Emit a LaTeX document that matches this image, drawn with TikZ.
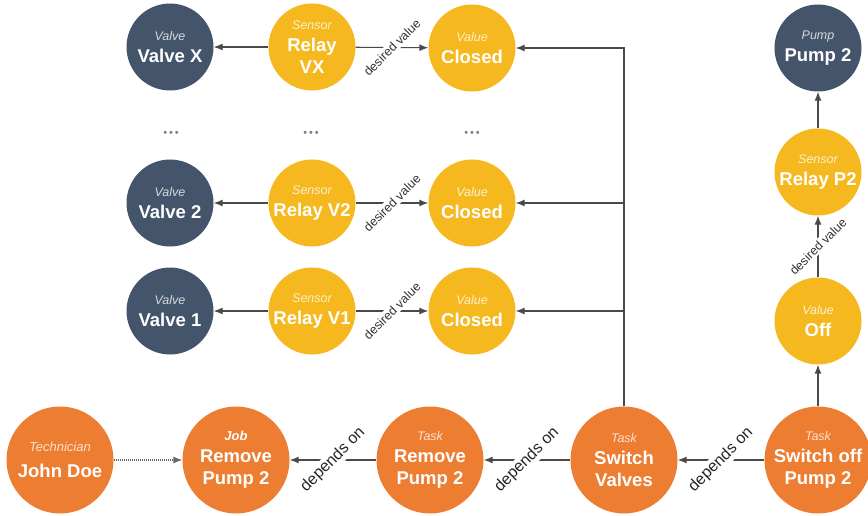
\documentclass[tikz,border=0pt]{standalone}
\usepackage{fontspec}
\setmainfont{Liberation Sans}
\usetikzlibrary{arrows.meta}
\definecolor{navy}{HTML}{44546A}
\definecolor{gold}{HTML}{F5B91F}
\definecolor{orng}{HTML}{ED7D31}
\definecolor{lnc}{HTML}{4A4A4A}
\tikzset{
 base/.style={circle, text=white, align=center, inner sep=0pt, font=\bfseries\fontsize{18.5}{22}\selectfont},
 small/.style={base, minimum size=87pt},
 big/.style={base, minimum size=107pt},
 nv/.style={small, fill=navy},
 ny/.style={small, fill=gold},
 no/.style={big, fill=orng},
 arr/.style={draw=lnc, line width=1.1pt, -{Latex[length=9pt,width=7pt]}},
 dv/.style={fill=white, rotate=45, font=\fontsize{12.5}{13}\selectfont, inner sep=1.5pt, text=black!80},
 dep/.style={fill=white, rotate=45, font=\fontsize{16}{17}\selectfont, inner sep=1.5pt, text=black!85},
 dots/.style={text=gray, inner sep=0pt, font=\fontsize{11}{11}\selectfont},
}
\newcommand{\cat}[2]{{\normalfont\itshape\fontsize{12.5}{15}\selectfont\color{white!78!#1}#2}\\}
\begin{document}
\begin{tikzpicture}[x=1pt,y=-1pt]
\useasboundingbox (0,0) rectangle (868,516);
% row X
\node[nv] (vx) at (170,47) {\cat{navy}{Valve}Valve X};
\node[ny] (rx) at (312,47) {\cat{gold}{Sensor}Relay\\VX};
\node[ny] (cx) at (472,48) {\cat{gold}{Value}Closed};
% dots
\node[dots] (d1) at (171,134) {\textbullet\,\textbullet\,\textbullet};
\node[dots] (d2) at (311,134) {\textbullet\,\textbullet\,\textbullet};
\node[dots] (d3) at (472,134) {\textbullet\,\textbullet\,\textbullet};
% row 2
\node[nv] (v2) at (170,203) {\cat{navy}{Valve}Valve 2};
\node[ny] (r2) at (312,203) {\cat{gold}{Sensor}Relay V2};
\node[ny] (c2) at (472,203) {\cat{gold}{Value}Closed};
% row 1
\node[nv] (v1) at (170,311) {\cat{navy}{Valve}Valve 1};
\node[ny] (r1) at (312,311) {\cat{gold}{Sensor}Relay V1};
\node[ny] (c1) at (472,311) {\cat{gold}{Value}Closed};
% right column
\node[nv] (p2) at (818,48) {\cat{navy}{Pump}Pump 2};
\node[ny] (rp) at (818,172) {\cat{gold}{Sensor}Relay P2};
\node[ny] (off) at (818,321) {\cat{gold}{Value}Off};
% bottom
\node[no] (jd) at (60,460) {{\normalfont\itshape\fontsize{13}{24}\selectfont\color{white!78!orng}Technician}\\[4pt]John Doe};
\node[no] (job) at (236,460) {{\bfseries\itshape\fontsize{13}{15}\selectfont Job}\\Remove\\Pump 2};
\node[no] (tr) at (430,460) {\cat{orng}{Task}Remove\\Pump 2};
\node[no] (sv) at (624,460) {\cat{orng}{Task}Switch\\Valves};
\node[no] (so) at (818,460) {\cat{orng}{Task}Switch off\\Pump 2};
% connectors
\foreach \r/\v/\c in {rx/vx/cx, r2/v2/c2, r1/v1/c1}{
  \draw[arr] (\r) -- (\v);
  \draw[arr] (\r) -- node[dv]{desired value} (\c);
  \draw[arr] (sv.north) |- (\c);
}
\draw[arr] (so) -- (off);
\draw[arr] (off) -- node[dv]{desired value} (rp);
\draw[arr] (rp) -- (p2);
\draw[arr] (so) -- node[dep]{depends on} (sv);
\draw[arr] (sv) -- node[dep]{depends on} (tr);
\draw[arr] (tr) -- node[dep]{depends on} (job);
\draw[arr, draw=gray!80!black, dash pattern=on 1pt off 1pt] (jd) -- (job);
\end{tikzpicture}
\end{document}
